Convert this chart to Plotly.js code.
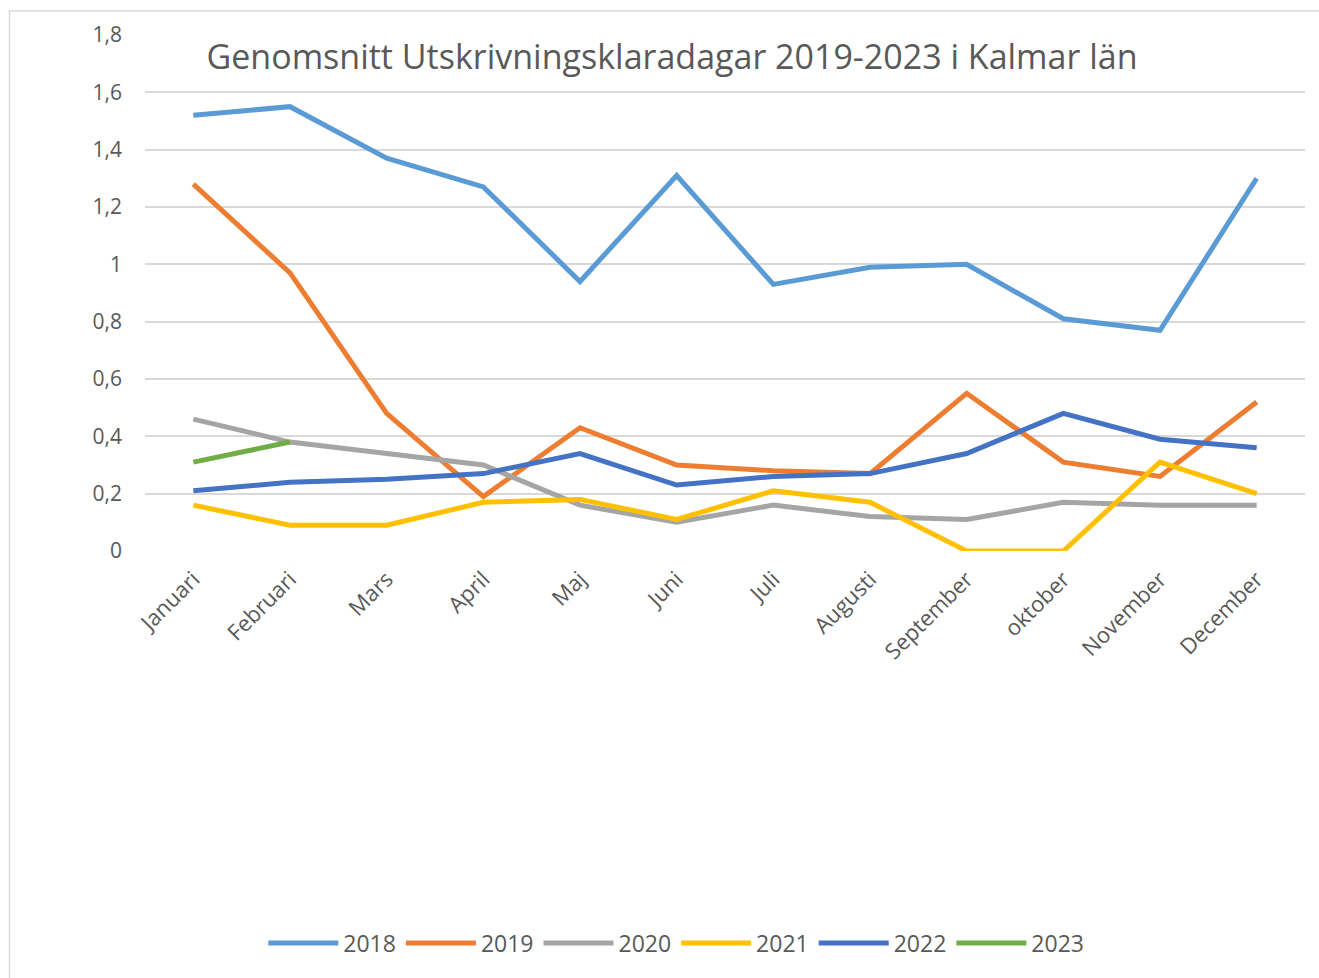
<!DOCTYPE html>
<html>
<head>
<meta charset="utf-8">
<script src="https://cdn.plot.ly/plotly-3.0.1.min.js"></script>
<style>
html,body{margin:0;padding:0;background:#fff;}
#chart{width:1319px;height:978px;}
</style>
</head>
<body>
<div id="chart"></div>
<script>
const months = ["Januari","Februari","Mars","April","Maj","Juni","Juli","Augusti","September","oktober","November","December"];
const y2018 = [1.52,1.55,1.37,1.27,0.94,1.31,0.93,0.99,1.00,0.81,0.77,1.30];
const y2019 = [1.28,0.97,0.48,0.19,0.43,0.30,0.28,0.27,0.55,0.31,0.26,0.52];
const y2020 = [0.46,0.38,0.34,0.30,0.16,0.10,0.16,0.12,0.11,0.17,0.16,0.16];
const y2021 = [0.16,0.09,0.09,0.17,0.18,0.11,0.21,0.17,0.00,0.00,0.31,0.20];
const y2022 = [0.21,0.24,0.25,0.27,0.34,0.23,0.26,0.27,0.34,0.48,0.39,0.36];
const y2023 = [0.31,0.38];
const seriesNames = ["2018","2019","2020","2021","2022","2023"];
const seriesData = [y2018,y2019,y2020,y2021,y2022,y2023];
const colors = ["#5B9BD5","#ED7D31","#A5A5A5","#FFC000","#4472C4","#70AD47"];

const traces = seriesNames.map((n,i)=>({
  type:'scatter', mode:'lines', name:n,
  x: months.slice(0, seriesData[i].length),
  y: seriesData[i],
  line:{color:colors[i], width:5, shape:'linear'},
  hoverinfo:'x+y+name'
}));

const fontFam = '"Open Sans", Lato, sans-serif';
const layout = {
  width:1319, height:978,
  margin:{l:145, r:14, t:35, b:427},
  paper_bgcolor:'#fff', plot_bgcolor:'#fff',
  separators:',.',
  font:{family:fontFam, color:'#595959', size:21},
  title:{text:'Genomsnitt Utskrivningsklaradagar 2019-2023 i Kalmar län',
         font:{family:fontFam, size:34, color:'#595959'},
         x:0.5095, xref:'container', xanchor:'center',
         y:1-57/978, yref:'container', yanchor:'middle'},
  xaxis:{type:'category', categoryorder:'array', categoryarray:months,
         range:[-0.5,11.5], showgrid:false, zeroline:false, showline:false,
         ticks:'', tickangle:-45, ticklabelstandoff:10,
         tickfont:{size:22, color:'#595959', family:fontFam}},
  yaxis:{range:[0,1.8], dtick:0.2, tick0:0, showgrid:true, gridcolor:'#d9d9d9', gridwidth:1.5,
         zeroline:false, showline:false, ticks:'', ticklabelstandoff:22,
         tickfont:{size:21, color:'#595959', family:fontFam}},
  showlegend:true,
  legend:{orientation:'h', x:0.458, xanchor:'center', y:(551-943)/516, yanchor:'middle',
          font:{size:23, color:'#595959', family:fontFam}, itemwidth:70, traceorder:'normal',
          itemclick:false},
  shapes:[{type:'rect', xref:'paper', yref:'paper',
           x0:(9.5-145)/1160, x1:(1330-145)/1160, y0:(551-1000)/516, y1:(551-11)/516,
           line:{color:'#d9d9d9', width:1.5}, fillcolor:'rgba(0,0,0,0)', layer:'below'}]
};
Plotly.newPlot('chart', traces, layout, {displayModeBar:false});
</script>
</body>
</html>
